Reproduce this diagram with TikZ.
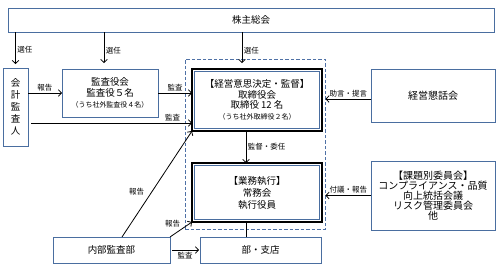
\documentclass[tikz,border=0pt]{standalone}
\usepackage{fontspec}
\setmainfont{Noto Sans CJK JP}
\usepackage{xcolor}
\definecolor{boxblue}{RGB}{74,110,160}
\definecolor{dashblue}{RGB}{79,113,166}
\usepackage{tikz}
\usetikzlibrary{
  arrows.meta,
  calc
}

\newcommand{\notesize}{\fontsize{7}{8}\selectfont}

\begin{document}
\begin{tikzpicture}[
  x=1pt, y=-1pt,
  box/.style={rectangle, draw=boxblue, line width=0.9pt, fill=white, inner sep=0pt, outer sep=0pt, align=center, font=\fontsize{9.5}{10.5}\selectfont},
  dblbox/.style={rectangle, draw=black, line width=1.1pt, fill=white, inner sep=0pt, outer sep=0pt, align=center, font=\fontsize{9.5}{10.5}\selectfont},
  arr/.style={-{Straight Barb[length=3pt,width=6.5pt]}, line width=0.8pt, black},
  lbl/.style={font=\fontsize{7.5}{8}\selectfont, inner sep=1.5pt}
]
  \useasboundingbox (0,0) rectangle (499,279);

  % dashed frame round the management boxes
  \node[draw=dashblue, line width=1pt, dash pattern=on 3.5pt off 2pt, minimum width=140pt, minimum height=170pt] (frame) at (255,144) {};

  \node[box, minimum width=486pt, minimum height=24pt] (kabu) at (251,20) {株主総会};
  \node[box, minimum width=25pt, minimum height=78pt, font=\fontsize{9.5}{12}\selectfont] (kaikei) at (15.5,107) {会\\計\\監\\査\\人};
  \node[box, minimum width=96pt, minimum height=48pt] (kansa) at (110,93) {監査役会\\監査役５名\\[1pt]{\notesize（うち社外監査役４名）}};
  \node[dblbox, minimum width=130pt, minimum height=62pt] (tori) at (257,100) {【経営意思決定・監督】\\取締役会\\取締役 12 名\\{\notesize（うち社外取締役２名）}};
  \node[dblbox, minimum width=130pt, minimum height=59pt, font=\fontsize{9.5}{12}\selectfont] (gyomu) at (257,192.5) {【業務執行】\\常務会\\執行役員};
  \draw[boxblue, line width=0.9pt] ($(tori.north west)+(2.5,2.5)$) rectangle ($(tori.south east)+(-2.5,-2.5)$);
  \draw[boxblue, line width=0.9pt] ($(gyomu.north west)+(2.5,2.5)$) rectangle ($(gyomu.south east)+(-2.5,-2.5)$);
  \node[box, minimum width=124pt, minimum height=53pt, font=\fontsize{10}{11}\selectfont] (kondan) at (433,95.5) {経営懇話会};
  \node[box, minimum width=124pt, minimum height=69pt, font=\fontsize{10}{10}\selectfont] (kadai) at (433,195.5) {【課題別委員会】\\コンプライアンス・品質\\向上統括会議\\リスク管理委員会\\他};
  \node[box, minimum width=117pt, minimum height=26pt] (naibu) at (111.5,250) {内部監査部};
  \node[box, minimum width=121pt, minimum height=26pt] (bu) at (260.5,250) {部・支店};

  \coordinate (s2) at (104,0);
  \coordinate (s3) at (242,0);
  \coordinate (s4) at (246,0);
  \coordinate (k2) at ($(kaikei.east)+(3,16)$);
  \coordinate (adv) at ($(kondan.west)+(0,3.5)$);

  % election
  \draw[arr, shorten >=4pt] (kabu.south -| kaikei) -- node[lbl, right]{選任} (kaikei.north);
  \draw[arr, shorten >=6pt] (kabu.south -| s2) -- node[lbl, right]{選任} (kansa.north -| s2);
  \draw[arr, shorten >=6pt] (kabu.south -| s3) -- node[lbl, right]{選任} (tori.north -| s3);

  % audit lines
  \draw[arr] (kaikei.east |- kansa.west) -- node[lbl, above]{報告} (kansa.west);
  \draw[arr] (kansa.east) -- node[lbl, above]{監査} (kansa.east -| tori.west);
  \draw[arr] (k2) -- node[lbl, above, pos=0.88]{監査} (k2 -| tori.west);

  \draw[arr] (adv) -- node[lbl, above]{助言・提言} (adv -| frame.east);
  \draw[arr] (kadai.west) -- node[lbl, above]{付議・報告} (kadai.west -| frame.east);

  \draw[arr] (tori.south -| s4) -- node[lbl, right]{監督・委任} (gyomu.north -| s4);
  \draw[line width=0.8pt] (gyomu.south -| s4) -- (bu.north -| s4);

  \draw[arr] ($(naibu.north)+(10.5,0)$) -- node[lbl, pos=0.43, left=6pt]{報告} (tori.south west);
  \draw[arr] (naibu.north east) -- node[lbl, above left, pos=0.55]{報告} (gyomu.south west);
  \draw[arr, shorten <=2pt, shorten >=1pt] (naibu.east) -- node[lbl, below]{監査} (bu.west);
\end{tikzpicture}
\end{document}
